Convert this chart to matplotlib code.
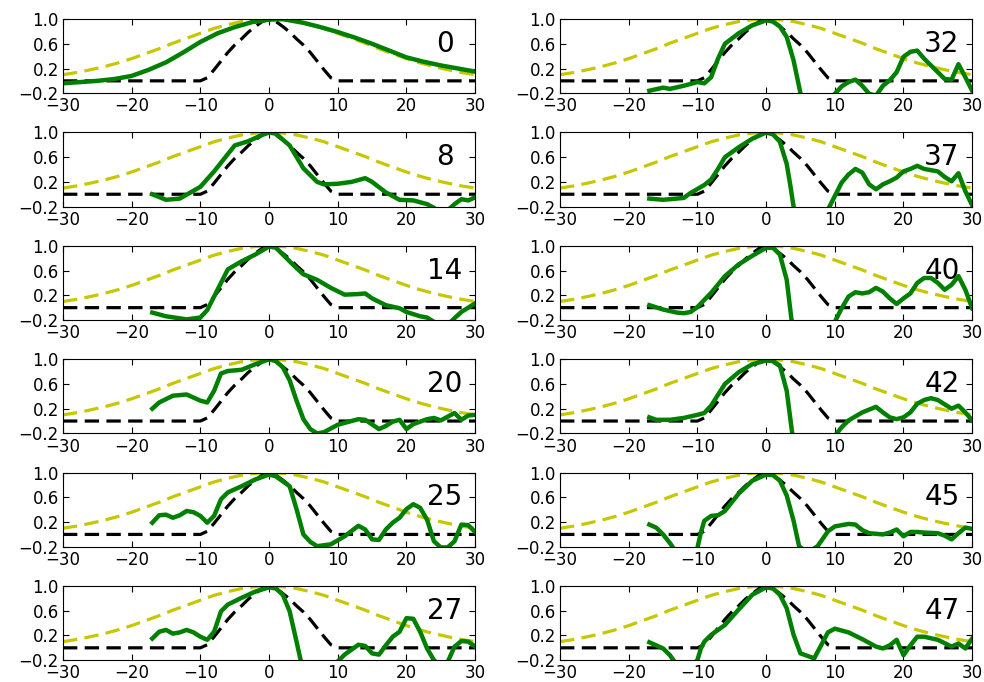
import matplotlib
matplotlib.use("Agg")
import matplotlib.pyplot as plt

# ---- reference curves ----
ref_x = [-30, -28, -26, -24, -22, -20, -18, -16, -14, -12, -10, -8, -6, -4, -2, 0,
         2, 4, 6, 8, 10, 12, 14, 16, 18, 20, 22, 24, 26, 28, 30]
wide_y = [0.10, 0.135, 0.18, 0.23, 0.29, 0.36, 0.44, 0.52, 0.61, 0.69, 0.77, 0.85, 0.91, 0.96, 0.99, 1.0,
          0.99, 0.96, 0.91, 0.85, 0.77, 0.69, 0.61, 0.52, 0.44, 0.36, 0.29, 0.23, 0.18, 0.135, 0.10]
narrow_x = [-30, -10, -9, -8, -7, -6, -5, -4, -3, -2, -1, 0, 1, 2, 3, 4, 5, 6, 7, 8, 9, 10, 30]
narrow_y = [0.0, 0.0, 0.05, 0.18, 0.32, 0.46, 0.58, 0.68, 0.79, 0.88, 0.96, 1.0,
            0.96, 0.88, 0.79, 0.68, 0.58, 0.46, 0.32, 0.18, 0.05, 0.0, 0.0]

# ---- measured curves (green) ----
labels = ["0", "8", "14", "20", "25", "27", "32", "37", "40", "42", "45", "47"]

x_0 = [-30, -27.5, -25, -22.5, -20, -17.5, -15, -12.5, -10, -7.5, -5, -2.5, 0, 2, 5, 7.5, 10, 12.5, 15, 17.5, 20, 22.5, 25, 27.5, 30]
y_0 = [-0.04, -0.02, 0.0, 0.03, 0.08, 0.18, 0.30, 0.46, 0.63, 0.77, 0.87, 0.95, 0.99, 1.0, 0.94, 0.87, 0.79, 0.70, 0.60, 0.49, 0.38, 0.31, 0.25, 0.20, 0.15]

x_8 = [-17, -15, -13, -10, -8, -5, -3, -1, 0, 1, 3, 5, 7, 8, 10, 12, 14, 15, 17, 19, 21, 23, 24, 25, 26, 27, 28, 29, 30]
y_8 = [0.0, -0.09, -0.07, 0.12, 0.37, 0.79, 0.86, 0.96, 1.0, 0.98, 0.79, 0.42, 0.20, 0.16, 0.17, 0.20, 0.26, 0.20, 0.03, -0.09, -0.10, -0.16, -0.22, -0.30, -0.26, -0.16, -0.08, -0.10, -0.05]

x_14 = [-17, -15, -12, -10, -9, -8, -7, -6, -4, -2, 0, 1, 3, 4, 5, 7, 9, 11, 13, 14, 15, 17, 19, 20, 22, 23, 24, 25, 26, 27, 28, 30]
y_14 = [-0.08, -0.14, -0.19, -0.16, -0.04, 0.18, 0.40, 0.62, 0.75, 0.86, 0.99, 0.97, 0.75, 0.64, 0.54, 0.45, 0.32, 0.21, 0.22, 0.23, 0.15, 0.04, -0.01, -0.07, -0.14, -0.16, -0.23, -0.30, -0.28, -0.17, -0.07, 0.07]

x_20 = [-17, -16, -14, -12, -10, -9, -8, -7, -6, -4, -2, 0, 1, 2, 3, 4, 5, 6, 7, 8, 10, 12, 13, 14, 16, 17, 18, 19, 20, 21, 23, 24, 25, 27, 28, 29, 30]
y_20 = [0.20, 0.30, 0.41, 0.43, 0.33, 0.30, 0.49, 0.77, 0.81, 0.83, 0.92, 1.0, 0.97, 0.87, 0.66, 0.33, 0.03, -0.13, -0.20, -0.18, -0.06, 0.0, 0.03, 0.02, -0.13, -0.08, -0.01, 0.02, -0.13, -0.05, 0.03, 0.05, 0.01, 0.13, 0.02, 0.09, 0.10]

x_25 = [-17, -16, -15, -14, -13, -12, -11, -10, -9, -8, -7, -6, -4, -2, 0, 1, 3, 4, 5, 6, 7, 9, 11, 13, 14, 15, 16, 17, 18, 19, 20, 21, 22, 23, 24, 25, 26, 27, 28, 29, 30]
y_25 = [0.19, 0.31, 0.32, 0.27, 0.31, 0.38, 0.36, 0.30, 0.19, 0.30, 0.57, 0.68, 0.78, 0.89, 0.97, 0.94, 0.78, 0.41, 0.0, -0.12, -0.19, -0.16, -0.03, 0.14, 0.08, -0.08, -0.09, 0.08, 0.19, 0.27, 0.41, 0.49, 0.43, 0.24, -0.11, -0.21, -0.21, -0.11, 0.16, 0.15, 0.04]

x_27 = [-17, -16, -15, -14, -13, -12, -11, -10, -9, -8, -7, -6, -4, -2, 0, 1, 2, 3, 4, 5, 7, 10, 11, 13, 14, 15, 16, 17, 18, 19, 20, 21, 22, 23, 24, 25, 26, 27, 28, 29, 30]
y_27 = [0.15, 0.26, 0.29, 0.23, 0.25, 0.29, 0.25, 0.18, 0.13, 0.26, 0.59, 0.70, 0.81, 0.91, 0.98, 0.96, 0.86, 0.59, 0.10, -0.40, -0.60, -0.22, -0.11, 0.05, 0.03, -0.09, -0.11, 0.04, 0.18, 0.26, 0.48, 0.47, 0.26, -0.01, -0.20, -0.30, -0.23, 0.02, 0.11, 0.10, 0.02]

x_32 = [-17, -15, -14, -12, -10, -9, -8, -7, -6, -4, -2, 0, 1, 2, 3, 4, 5, 7, 10, 11, 12, 13, 14, 15, 16, 17, 18, 19, 20, 21, 22, 23, 25, 26, 27, 28, 29, 30]
y_32 = [-0.16, -0.11, -0.13, -0.08, -0.02, -0.04, 0.06, 0.36, 0.60, 0.77, 0.90, 0.98, 0.96, 0.88, 0.71, 0.33, -0.20, -0.60, -0.21, -0.09, -0.02, 0.02, -0.08, -0.21, -0.24, -0.08, 0.01, 0.14, 0.39, 0.47, 0.49, 0.36, 0.14, 0.03, 0.02, 0.27, 0.06, -0.16]

x_37 = [-17, -15, -12, -11, -9, -8, -7, -6, -4, -2, 0, 1, 2, 3, 3.5, 4, 6, 9, 10, 11, 12, 13, 14, 15, 16, 17, 18, 19, 20, 21, 22, 23, 25, 26, 27, 28, 29, 30]
y_37 = [-0.07, -0.09, -0.06, 0.02, 0.15, 0.24, 0.41, 0.60, 0.76, 0.90, 1.0, 0.97, 0.85, 0.49, 0.16, -0.20, -0.60, -0.25, -0.03, 0.19, 0.32, 0.41, 0.35, 0.16, 0.08, 0.16, 0.21, 0.27, 0.37, 0.41, 0.46, 0.41, 0.37, 0.28, 0.21, 0.34, 0.05, -0.18]

x_40 = [-17, -15, -13, -12, -11, -10, -8, -6, -4, -2, 0, 1, 2, 3, 3.7, 6, 10, 11, 12, 13, 14, 15, 16, 17, 18, 19, 20, 21, 22, 23, 24, 25, 26, 27, 28, 29, 30]
y_40 = [0.04, -0.03, -0.08, -0.09, -0.07, 0.01, 0.24, 0.51, 0.70, 0.84, 0.97, 0.97, 0.86, 0.45, -0.20, -0.60, -0.23, -0.01, 0.18, 0.25, 0.23, 0.25, 0.32, 0.26, 0.15, 0.06, 0.15, 0.23, 0.40, 0.48, 0.48, 0.40, 0.29, 0.37, 0.51, 0.29, -0.01]

x_42 = [-17, -16, -14, -12, -10, -9, -8, -6, -4, -2, 0, 1, 2, 3, 3.8, 6, 10, 11, 12, 14, 16, 17, 18, 19, 20, 21, 22, 23, 24, 25, 26, 27, 28, 29, 30]
y_42 = [0.06, 0.02, 0.02, 0.05, 0.10, 0.13, 0.25, 0.60, 0.79, 0.92, 0.98, 0.97, 0.90, 0.49, -0.20, -0.60, -0.24, -0.10, 0.01, 0.14, 0.23, 0.14, 0.06, 0.03, 0.06, 0.14, 0.28, 0.34, 0.37, 0.34, 0.27, 0.20, 0.25, 0.14, 0.01]

x_45 = [-17, -16, -15, -14, -13.5, -12, -10, -9.5, -9, -8, -7, -6, -4, -2, 0, 1, 2, 3, 4, 4.8, 6, 7.5, 8, 9, 10, 12, 13, 14, 15, 17, 18, 19, 20, 21, 22, 23, 25, 26, 27, 28, 29, 30]
y_45 = [0.16, 0.11, 0.0, -0.14, -0.22, -0.40, -0.22, 0.03, 0.22, 0.30, 0.31, 0.38, 0.66, 0.87, 0.97, 0.96, 0.87, 0.63, 0.22, -0.19, -0.30, -0.19, -0.11, 0.05, 0.13, 0.17, 0.16, 0.07, 0.02, 0.0, 0.03, 0.08, -0.03, 0.04, 0.04, 0.03, 0.02, -0.02, -0.08, 0.02, 0.11, 0.09]

x_47 = [-17, -16, -15, -14, -13.5, -12, -10, -9.5, -9, -8, -7, -6, -4, -2, 0, 1, 2, 3, 4, 5, 6, 7, 8, 9, 10, 12, 14, 16, 17, 18, 19, 20, 21, 22, 23, 25, 27, 28, 29, 30]
y_47 = [0.09, 0.04, -0.01, -0.12, -0.20, -0.40, -0.20, -0.01, 0.10, 0.21, 0.29, 0.37, 0.62, 0.86, 0.98, 0.96, 0.86, 0.64, 0.21, -0.09, -0.13, -0.17, 0.04, 0.25, 0.31, 0.25, 0.14, 0.02, -0.01, 0.04, 0.13, -0.12, 0.04, 0.18, 0.18, 0.13, 0.02, 0.07, -0.01, 0.15]

green_x = [x_0, x_8, x_14, x_20, x_25, x_27, x_32, x_37, x_40, x_42, x_45, x_47]
green_y = [y_0, y_8, y_14, y_20, y_25, y_27, y_32, y_37, y_40, y_42, y_45, y_47]

x_ticks = [-30, -20, -10, 0, 10, 20, 30]
y_ticks = [-0.2, 0.2, 0.6, 1.0]

plt.rcParams['font.family'] = ['DejaVu Sans']
fig, axes = plt.subplots(6, 2, figsize=(9.84, 6.82), dpi=100)
fig.subplots_adjust(left=0.064, right=0.988, top=0.972, bottom=0.032, wspace=0.206, hspace=0.53)

for i in range(12):
    col = i // 6
    row = i % 6
    ax = axes[row, col]
    ax.plot(ref_x, wide_y, color=(0.78, 0.78, 0.0), lw=2.3, ls='--', dashes=(4.5, 2.3))
    ax.plot(narrow_x, narrow_y, color='k', lw=2.3, ls='--', dashes=(4.5, 2.3))
    ax.plot(green_x[i], green_y[i], color=(0.0, 0.5, 0.0), lw=3.2)
    ax.set_xlim(-30, 30)
    ax.set_ylim(-0.2, 1.0)
    ax.set_xticks(x_ticks)
    ax.set_yticks(y_ticks)
    ax.set_yticklabels(["\u22120.2", "0.2", "0.6", "1.0"])
    ax.tick_params(direction='in', top=True, right=True, labelsize=12, length=4, pad=3)
    ax.text(25.6, 0.6, labels[i], fontsize=20, ha='center', va='center')

fig.savefig("out.png", dpi=100, facecolor='white')
